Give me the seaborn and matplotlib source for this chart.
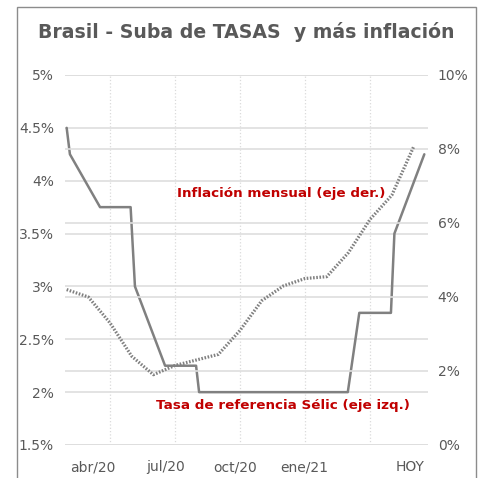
import seaborn as sns
import matplotlib.pyplot as plt
from matplotlib.patches import Rectangle
from matplotlib.ticker import FixedLocator

# months counted from Jan 2020 (1 = Jan/20)
selic_mes = [1.0, 1.15, 2.54, 3.95, 4.15, 5.54, 6.97, 7.11, 13.97, 14.5, 15.96, 16.12, 17.5]
selic_tasa = [4.5, 4.25, 3.75, 3.75, 3.0, 2.25, 2.25, 2.0, 2.0, 2.75, 2.75, 3.5, 4.25]

infl_mes = list(range(1, 18))
infl_tasa = [4.2, 4.0, 3.3, 2.4, 1.9, 2.15, 2.3, 2.45, 3.1, 3.9, 4.3, 4.5, 4.55, 5.2, 6.1, 6.75, 8.05]

etiquetas_x = ["abr/20", "jul/20", "oct/20", "ene/21", "HOY"]
pos_etiquetas = [2.22, 5.54, 8.77, 11.95, 16.85]
grid_x = [3, 6, 9, 12, 15]
ticks_izq = [1.5, 2, 2.5, 3, 3.5, 4, 4.5, 5]
ticks_der = [0, 2, 4, 6, 8, 10]

sns.set_style("white")
plt.rcParams["font.family"] = ["DejaVu Sans"]
gris = "#595959"
linea = "#808080"
rojo = "#c00000"

fig = plt.figure(figsize=(4.82, 4.78), dpi=100)
W, H = 482, 478
ax = fig.add_axes([65 / W, 1 - 445 / H, (428 - 65) / W, (445 - 75) / H])
ax2 = ax.twinx()

sns.lineplot(x=selic_mes, y=selic_tasa, ax=ax, color=linea, lw=1.8, estimator=None, sort=False)
sns.lineplot(x=infl_mes, y=infl_tasa, ax=ax2, color=linea, lw=2.3, estimator=None, sort=False,
             linestyle=(0, (0.5, 0.5)))

ax.set_xlim(0.923, 17.67)
ax.set_ylim(1.5, 5.0)
ax2.set_ylim(0, 10)

ax.set_yticks(ticks_izq)
ax.set_yticklabels([f"{t:g}%" for t in ticks_izq])
ax2.set_yticks(ticks_der)
ax2.set_yticklabels([f"{t}%" for t in ticks_der])
ax.set_xticks(pos_etiquetas)
ax.set_xticklabels(etiquetas_x)
ax.xaxis.set_minor_locator(FixedLocator(grid_x))

ax.grid(True, axis="y", color="#dedede", lw=1.2)
ax2.grid(True, axis="y", color="#dedede", lw=1.2)
ax.grid(True, axis="x", which="minor", color="#dadada", lw=0.9, linestyle=":")
ax.grid(False, axis="x", which="major")
ax.set_axisbelow(True)
ax2.set_axisbelow(True)

ax.tick_params(axis="y", length=0, pad=8, labelsize=10, labelcolor=gris)
ax2.tick_params(axis="y", length=0, pad=7, labelsize=10, labelcolor=gris)
ax.tick_params(axis="x", which="both", length=0, pad=11, labelsize=10, labelcolor=gris)

for a in (ax, ax2):
    for s in a.spines.values():
        s.set_visible(False)
    a.set_xlabel("")
    a.set_ylabel("")

fig.text(246 / W, 1 - 32 / H, "Brasil - Suba de TASAS  y más inflación",
         ha="center", va="center", fontsize=13.6, fontweight="bold", color=gris)
fig.text(281 / W, 1 - 194 / H, "Inflación mensual (eje der.)",
         ha="center", va="center", fontsize=9.7, fontweight="bold", color=rojo)
fig.text(283 / W, 1 - 405 / H, "Tasa de referencia Sélic (eje izq.)",
         ha="center", va="center", fontsize=9.7, fontweight="bold", color=rojo)

fig.patches.append(Rectangle((17 / W, -0.05), (476 - 17) / W, 1 - 7 / H + 0.05,
                             transform=fig.transFigure, fill=False,
                             edgecolor="#8c8c8c", lw=1.0))

fig.savefig("out.png", dpi=100)
